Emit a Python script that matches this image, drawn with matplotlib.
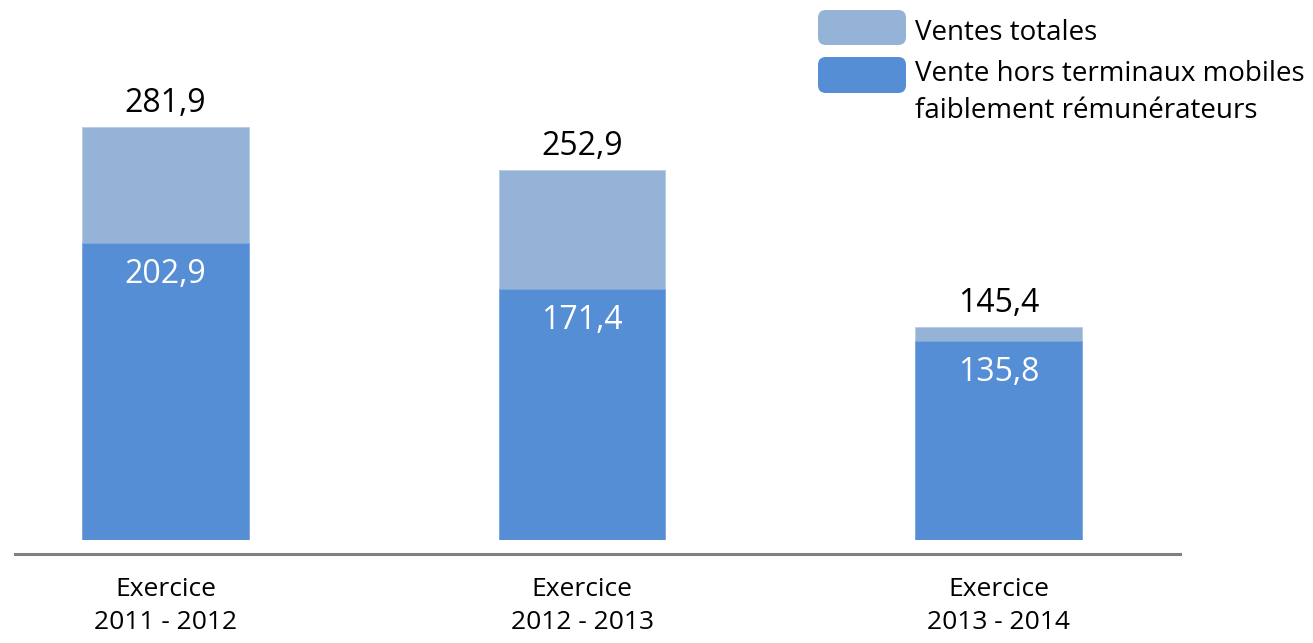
import matplotlib.pyplot as plt
from matplotlib.patches import FancyBboxPatch

plt.rcParams['font.family'] = ['Open Sans', 'DejaVu Sans']

# Données
exercices = ["Exercice\n2011 - 2012", "Exercice\n2012 - 2013", "Exercice\n2013 - 2014"]
ventes_totales = [281.9, 252.9, 145.4]
ventes_hors_terminaux = [202.9, 171.4, 135.8]
etiquettes_legende = ["Ventes totales", "Vente hors terminaux mobiles\nfaiblement rémunérateurs"]

couleur_claire = '#95B3D7'
couleur_foncee = '#558ED5'

W, H = 1313, 643
fig = plt.figure(figsize=(W / 100, H / 100), dpi=100)
ax = fig.add_axes([15 / W, (H - 540) / H, (1180 - 15) / W, 540 / H])

x = range(len(exercices))
largeur = 0.4
ax.bar(x, ventes_totales, width=largeur, color=couleur_claire, edgecolor='#B8CCE4', linewidth=0.6)
ax.bar(x, ventes_hors_terminaux, width=largeur, color=couleur_foncee, edgecolor='#7FA9DE', linewidth=0.6)

for i in x:
    ax.annotate(f"{ventes_totales[i]:.1f}".replace('.', ','), (i, ventes_totales[i]),
                xytext=(0, 5), textcoords='offset points', ha='center', va='bottom',
                fontsize=23, color='black')
    ax.annotate(f"{ventes_hors_terminaux[i]:.1f}".replace('.', ','), (i, ventes_hors_terminaux[i]),
                xytext=(0, -11), textcoords='offset points', ha='center', va='top',
                fontsize=23, color='white')

ax.set_xlim(-0.361, 2.435)
ax.set_ylim(0, 368.6)
for s in ['top', 'right', 'left']:
    ax.spines[s].set_visible(False)
ax.spines['bottom'].set_position(('outward', 10))
ax.spines['bottom'].set_color('#808080')
ax.spines['bottom'].set_linewidth(2.2)
ax.set_yticks([])
ax.set_xticks(list(x))
ax.set_xticklabels(exercices, fontsize=19, linespacing=1.38)
ax.tick_params(axis='x', length=0, pad=17)

# Légende manuelle
patchs = [(818, 10, 88, 35, couleur_claire), (818, 57, 88, 36, couleur_foncee)]
for (px, py, pw, ph, c) in patchs:
    fig.patches.append(FancyBboxPatch((px / W, 1 - (py + ph) / H), pw / W, ph / H,
                                      boxstyle="round,pad=0,rounding_size=0.006",
                                      transform=fig.transFigure, facecolor=c, edgecolor='none',
                                      mutation_aspect=W / H))
lignes = [(etiquettes_legende[0], 33)] + list(zip(etiquettes_legende[1].split('\n'), [74, 111]))
for texte, ty in lignes:
    fig.text(915 / W, 1 - ty / H, texte, fontsize=20, va='center', ha='left')

fig.savefig('out.png', dpi=100)
